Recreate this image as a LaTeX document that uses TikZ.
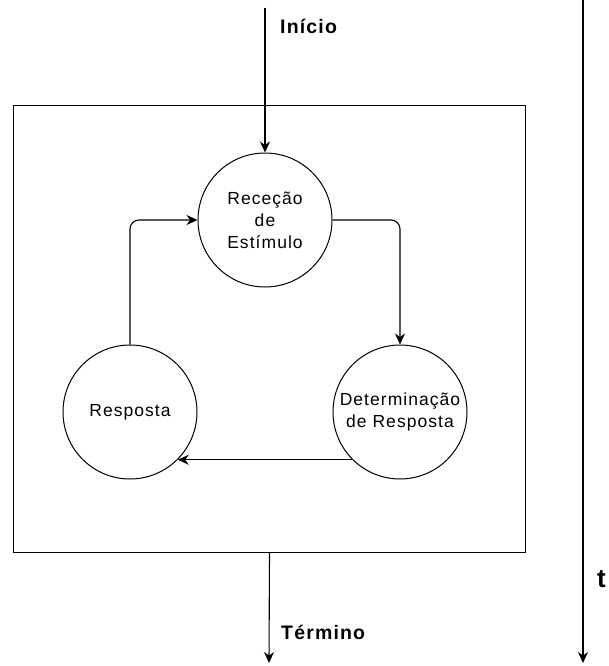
\documentclass[tikz,border=0pt]{standalone}
\usepackage{fontspec}
\setmainfont{Liberation Sans}[LetterSpace=6]
\usepackage{tikz}
\usetikzlibrary{arrows.meta, positioning, calc}

\tikzset{
  estado/.style={circle, draw, line width=1pt, minimum size=134pt, inner sep=0pt,
                 align=center, font=\fontsize{17.5}{22}\selectfont},
  seta/.style={-{Stealth[length=11pt,width=10pt]}, line width=1.1pt, rounded corners=9pt},
  rotulo/.style={font=\bfseries\fontsize{19.5}{22}\selectfont, anchor=west, inner sep=0pt}
}

\begin{document}
\begin{tikzpicture}[x=1pt,y=-1pt]
    \useasboundingbox (0,0) rectangle (609,666);

    % caixa do sistema
    \node[draw, line width=1pt, minimum width=512pt, minimum height=447pt,
          anchor=north west, inner sep=0pt] (sistema) at (13,105) {};

    % estados
    \node[estado] (rececao) at (265,220) {Receção\\de\\Estímulo};
    \node[estado] (determinacao) at (400,412) {Determinação\\de Resposta};
    \node[estado] (resposta) at (130,412) {Resposta};

    % ciclo
    \draw[seta] (rececao.east) -| (determinacao.north);
    \draw[seta] (determinacao.south west) -- (resposta.south east);
    \draw[seta] (resposta.north) |- (rececao.west);

    % inicio e termino
    \coordinate (entrada) at (265,8);
    \coordinate (saida) at (269,663);
    \draw[seta] (entrada) -- (rececao.north);
    \draw[seta] (sistema.south) -- (saida);
    \node[rotulo] (inicio) at (280,26) {Início};
    \node[rotulo] (termino) at (281,632) {Término};

    % eixo do tempo
    \coordinate (t0) at (583,0);
    \coordinate (t1) at (583,663);
    \draw[seta] (t0) -- (t1);
    \node[rotulo, font=\bfseries\fontsize{26}{28}\selectfont] (tempo) at (597,579) {t};
\end{tikzpicture}
\end{document}
